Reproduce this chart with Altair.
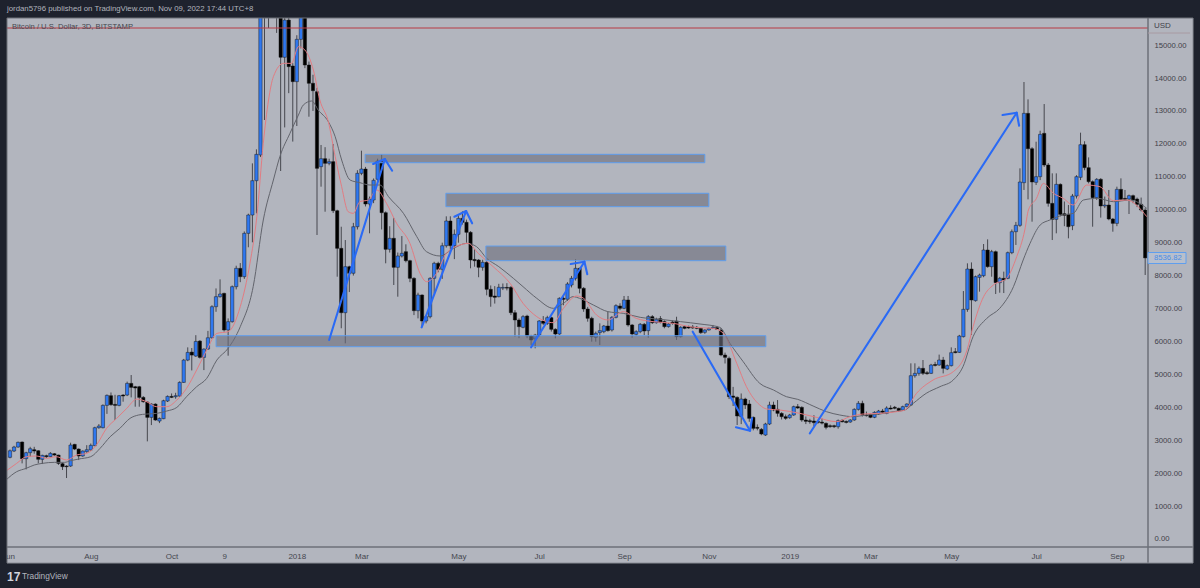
import altair as alt
import pandas as pd

# 3-day BTC/USD candles
opens = [
2480,2672,2793,2945,2439,2621,2712,2682,2419,2530,
2500,2590,2550,2287,2216,2216,2874,2732,2520,2651,
2702,2834,3380,3380,4058,4352,4088,4058,4372,4372,
4726,4625,4625,4301,4160,3694,4098,3582,3653,4190,
4331,4321,4341,4756,5434,5677,5556,6011,5515,5768,
6112,7055,7360,7460,6347,6600,7663,8220,7967,9283,
9840,10882,11662,16300,17100,18500,18000,17500,14630,15760,
14365,13890,15175,16300,14395,13840,13585,11308,11550,11410,
11460,9970,8828,6873,8270,8070,9484,11106,11237,10174,
10296,10924,11480,9910,8798,9132,8251,8595,8726,8452,
7917,6934,7410,6620,6751,7917,8373,8190,8907,9658,
8907,9253,9739,9618,9314,8490,8473,8251,8403,7583,
7380,7359,7620,7640,7644,6873,6651,6429,6773,6166,
6074,6196,6621,6550,6722,6368,6226,7309,7280,7714,
7917,8220,7613,6985,6702,6125,6267,6297,6469,6348,
6732,7077,7006,7259,6500,6216,6297,6520,6327,6753,
6570,6692,6601,6449,6591,6621,6145,6449,6449,6439,
6429,6398,6277,6348,6398,6420,6347,5588,5486,4342,
4302,3715,4251,4100,3695,3391,3330,3158,3492,4069,
3938,3816,3715,3685,3766,4019,3998,3614,3593,3583,
3570,3550,3512,3441,3441,3411,3600,3570,3553,3614,
3938,4120,3766,3786,3695,3796,3887,3816,3978,4000,
3968,3917,4019,4069,4960,5031,5183,5050,5031,5300,
5284,5436,5162,5264,5689,5669,6145,6975,8200,7238,
7946,7997,8777,8270,8726,7785,7916,7916,8696,9333,
9526,10822,12927,11854,10832,11004,12320,11358,10194,9708,
10771,9880,9860,9516,10416,10984,11975,11277,10852,10366,
10923,10113,10143,9718,9586,10619,10345,10325,10427,10325,
10163,9991]
closes = [
2680,2793,2935,2439,2621,2742,2672,2419,2540,2500,
2601,2550,2297,2196,2196,2854,2732,2520,2672,2712,
2844,3380,3430,4058,4362,4078,4058,4352,4342,4726,
4605,4585,4301,4170,3694,4098,3613,3663,4200,4331,
4301,4352,4756,5434,5667,5586,6000,5515,5768,6112,
7055,7360,7440,6347,6600,7663,8220,7967,9283,9840,
10882,11682,16300,17100,18500,18000,17500,14630,15760,14345,
13890,15175,16300,14395,13840,13615,11257,11550,11410,11460,
9970,8828,6873,8270,8070,9484,11106,11237,10174,10326,
10894,11480,9910,8798,9132,8251,8595,8676,8452,7917,
6934,7410,6620,6751,7917,8373,8190,8907,9658,8907,
9253,9739,9618,9314,8473,8452,8251,8403,7583,7359,
7340,7644,7640,7620,6873,6651,6448,6753,6166,6044,
6196,6621,6550,6722,6368,6226,7309,7280,7745,7917,
8220,7613,6985,6702,6145,6247,6328,6469,6328,6732,
7087,7006,7259,6500,6226,6297,6520,6317,6753,6570,
6672,6581,6449,6530,6550,6145,6429,6398,6408,6408,
6398,6267,6348,6398,6429,6370,5588,5517,4322,4302,
3735,4251,4069,3664,3361,3361,3189,3492,4069,3917,
3816,3715,3664,3766,4019,3978,3614,3573,3563,3533,
3540,3520,3391,3411,3411,3593,3560,3540,3614,3938,
4120,3766,3745,3695,3847,3887,3847,3978,3948,3970,
3897,4019,4100,4960,5031,5183,5031,5020,5284,5270,
5436,5183,5264,5659,5659,6165,6975,8200,7258,7967,
8017,8777,8270,8726,7785,7916,7865,8696,9333,9526,
10842,12927,11854,10842,11004,12289,11358,10194,9708,10771,
9860,9830,9485,10416,11004,11975,11277,10852,10366,10923,
10113,10143,9718,9586,10619,10315,10315,10427,10295,10163,
9991,8536.82]
highs = [
2720,2830,2960,2960,2650,2800,2800,2700,2560,2560,
2640,2610,2560,2320,2240,2925,2890,2750,2690,2850,
2900,3410,3490,4090,4390,4450,4380,4375,4400,4780,
4980,4650,4650,4340,4180,4120,4120,3690,4230,4360,
4420,4440,4790,5470,5820,5800,6190,6040,5790,6320,
7100,7610,7885,7480,6700,7700,8300,8380,9340,9880,
11408,11834,16700,17500,18500,19000,18500,18000,16000,16000,
14450,15300,17000,17000,14500,14100,13700,11966,11900,11550,
11995,10000,9484,9080,8300,9600,11200,11793,11300,10400,
10950,11550,11683,9950,9500,9750,8700,9200,8950,8480,
7950,7480,7430,6800,7950,8420,8420,9000,9800,9800,
9400,9830,9950,9700,9350,8800,8500,8480,8450,7700,
7680,7750,7760,7770,7680,6950,6700,6800,6810,6200,
6230,6650,6770,6780,6750,6400,7340,7400,7800,7990,
8494,8240,7650,7050,6750,6300,6550,6500,6904,6770,
7130,7160,7380,7380,6530,6340,6560,6560,6800,6800,
6720,6770,6640,6560,6640,6750,6460,6490,6480,6500,
6470,6420,6370,6420,6500,6470,6410,5660,5540,4620,
4330,4420,4290,4220,3720,3480,3370,3530,4170,4170,
4220,3850,3780,3800,4050,4100,4030,3720,3650,3760,
3620,3660,3540,3480,3470,3630,3640,3600,3640,3970,
4190,4200,3870,3810,3880,3920,3950,4030,4060,4040,
3990,4050,4120,5335,5335,5240,5436,5100,5320,5380,
5600,5530,5300,5820,5800,6200,7530,8372,8400,8000,
8060,8959,9100,8780,8760,7960,8120,8730,9400,9630,
11257,13879,13352,11900,12066,12400,13210,11420,11105,11105,
10800,10250,10143,10480,11050,12340,12080,11590,10890,10960,
10960,10400,10600,9750,10700,10953,10600,10460,10460,10370,
10370,10050]
lows = [
2450,2640,2770,2297,2115,2500,2590,2297,2277,2460,
2480,2530,2250,2095,1852,2190,2700,2398,2500,2620,
2680,2820,3350,3360,3800,4050,3613,4030,4170,4340,
4301,4018,4018,4140,2965,3460,3590,3520,3640,4160,
4280,4260,4320,4740,5400,5120,5530,5480,5130,5740,
6080,6900,7330,6300,5567,6570,7580,7800,7900,8860,
9010,9890,11600,12725,15520,17000,15370,11176,12500,13540,
12070,12543,14900,14300,12825,13000,9233,10700,9940,11350,
9900,7966,6400,5943,7500,8000,9400,11050,10100,9284,
10200,10850,9400,8373,8700,7714,7359,8550,8400,7800,
6800,6700,6450,6550,6700,7450,8100,7900,8850,8800,
8500,9000,9550,9000,8221,8270,7950,8150,7400,7054,
7150,7340,7560,7550,6800,6145,6100,6400,6100,5892,
5791,6150,6500,6500,6300,6095,6200,7100,7230,7640,
7850,7461,6900,6600,5993,5993,5892,6250,6300,6300,
6700,6950,6980,6450,6115,6165,6250,6195,6115,6530,
6540,6550,6400,6420,6510,6044,6120,6370,6380,6380,
6370,6230,6230,6330,6380,6350,5550,5330,4250,4039,
3462,3490,3950,3560,3300,3300,3150,3130,3460,3880,
3715,3630,3620,3650,3740,3950,3560,3490,3500,3430,
3500,3480,3330,3380,3370,3350,3540,3510,3530,3590,
3900,3720,3720,3670,3670,3770,3820,3790,3930,3940,
3870,3890,4000,4040,4900,4960,4980,4990,5010,5240,
5260,5030,5130,5240,5640,5650,6120,6900,6195,7210,
7511,7950,8240,7966,7440,7480,7470,7890,8650,8930,
9480,10600,10315,9637,10750,10900,11300,10094,9080,9283,
9800,9500,9131,9380,10340,10900,11200,10800,9485,10300,
9760,10050,9680,9333,9500,10280,10270,9870,10200,10080,
9950,8018]

gray_i = [-1,1.65,4,6,8,11,13.5,15,17,20,22.3,24.8,27.2,29.7,31.8,33.8,36.3,38.8,41.3,43.7,46.2,48.7,51.2,54,57,60.2,62.7,65.2,66.8,69.3,71.4,72.6,74.7,76.3,78.8,80.5,82.1,84.2,86.6,89.1,91.6,93.7,97.4,100.7,103.1,106.5,109.8,113,115.5,118,121,124.6,127,130.4,134.5,137,139.4,141,144.4,148,151.8,156,161,166,170.8,175.7,178.2,181.5,185.6,189,192.2,195,198.8,202.1,205.4,208.7,212,215.3,218.6,221.5,223.6,226.8,230.2,233.5,235.9,238.4,241.8,245,248.4,250.8,252.5,255,257.4,260.7,263.2,265.7,269.3,273.1,277.3,281.4]
gray_v = [1791,2044,2145,2247,2297,2328,2328,2378,2429,2500,2753,3107,3360,3663,3765,3795,3815,3886,3997,4321,4625,4878,5434,5791,6448,7663,9688,10902,11611,12320,12877,13180,13302,13028,12674,12218,11510,10902,10822,10751,10751,10396,9890,9182,8726,8595,8828,8979,8878,8524,8271,7917,7664,7309,7006,7158,7360,7309,7107,6905,6854,6732,6672,6601,6530,6429,5943,5385,4727,4525,4322,4241,4039,3867,3766,3715,3766,3796,3867,3917,4120,4424,4626,4829,5233,6145,6701,7005,7663,8473,8979,9536,9688,9840,9890,10295,10346,10244,10295,10042]
red_i = [-1,1.65,4.1,6.6,9,11.5,14,16.5,19,21.4,23.9,26.4,28.9,31.4,33.8,36.3,38.8,41.3,43.7,46.2,48.7,51.2,54,57,59.4,61.1,62.7,64,65.2,67.7,69.7,71.4,73,75.1,76.7,78.8,80.5,82.1,83.7,85,86.6,88.7,90.8,93.2,95.7,99,101.5,103.1,105.6,108,111.4,113.4,115.9,119.6,123.8,127,130.4,134.5,137,140.3,142,145.2,148,151.8,155,159.2,164.2,169.2,174,176.6,179.9,182.3,185.6,187.3,190.6,195.5,199.6,204.6,207.9,211.2,215.3,219.5,221.5,224.4,228.5,233.5,236.9,238.4,241,243.4,246.7,249.2,251.2,252.1,254.1,255.8,258.3,260.7,263.2,266.5,269.8,273.1,276.4,281.4]
red_v = [2064,2297,2500,2520,2449,2500,2398,2550,2601,2854,3360,3663,3967,4250,4170,4018,4018,4220,4574,5131,5738,6244,6297,7056,8372,9789,12016,13332,14041,14446,14446,14952,14850,14243,13332,12674,11611,10700,9941,9890,10245,10295,10599,10194,9586,8979,8068,7815,8068,8676,8928,8979,8676,8271,7765,7158,6753,6570,7006,7380,7309,6803,6651,6905,6702,6601,6550,6429,6398,6246,5335,4626,4069,3948,3917,3816,3695,3563,3715,3796,3816,3867,3917,4424,4829,5082,5740,6448,7359,7713,7916,8574,9384,9991,10346,10800,10498,10346,10143,10750,10700,10275,10295,9789]

zone_i = [51, 87.9, 107.9, 117.8]
zone_i2 = [187.1, 172, 173, 177.2]
zone_top = [6174, 11683, 10500, 8898]
zone_bottom = [5840, 11428, 10092, 8452]

arrow_id = [1,1, 2,2, 3,3, 4,4, 5,5, 6,6,6, 7,7,7, 8,8,8, 9,9,9, 10,10,10]
arrow_seq = [0,1, 0,1, 0,1, 0,1, 0,1, 0,1,2, 0,1,2, 0,1,2, 0,1,2, 0,1,2]
arrow_i = [79,92.8, 101.9,112.9, 129,142.2, 169,183.2, 198,249.2,
           89.9,92.8,94.6, 110,112.9,114.4, 138.8,142.2,142.9, 179.7,183.2,183.7, 245.7,249.2,249.8]
arrow_v = [6044,11541, 6429,9961, 5822,8422, 6296,3289, 3210,12947,
           11389,11541,11185, 9788,9961,9588, 8352,8422,8039, 3392,3289,3675, 12877,12947,12552]

price_ticks = [0,1000,2000,3000,4000,5000,6000,7000,8000,9000,10000,11000,12000,13000,14000,15000]
time_ticks = [0,20,40,53,71,87,111,131,152,173,193,213,233,254,274]
time_labels = ["un","Aug","Oct","9","2018","Mar","May","Jul","Sep","Nov","2019","Mar","May","Jul","Sep"]
last_price = 8536.82
red_level = 15519

title_text = "jordan5796 published on TradingView.com, Nov 09, 2022 17:44 UTC+8"
symbol_text = "Bitcoin / U.S. Dollar, 3D, BITSTAMP"

BG = "#1e222d"; PANEL = "#b2b5be"; FONT = "Liberation Sans"
W, H = 1141, 529

assert len(opens) == len(closes) == len(highs) == len(lows), (len(opens), len(closes), len(highs), len(lows))

df = pd.DataFrame({"i": range(len(opens)), "o": opens, "c": closes, "h": highs, "l": lows})
df["dir"] = ["up" if c >= o else "down" for o, c in zip(opens, closes)]

label_expr = "{" + ",".join(f"'{t}':'{l}'" for t, l in zip(time_ticks, time_labels)) + "}[datum.value]"
x_scale = alt.Scale(domain=[-0.74, 281.7], nice=False, zero=False, padding=0)
y_scale = alt.Scale(domain=[-243, 15823], nice=False, zero=False)
x_axis = alt.Axis(values=time_ticks, labelExpr=label_expr, title=None, grid=False, ticks=False, domain=False,
                  labelFont=FONT, labelFontSize=8, labelColor="#45474f", labelPadding=5, zindex=1)
y_axis = alt.Axis(values=price_ticks, format=".2f", orient="right", title=None, grid=False, ticks=False, domain=False,
                  labelFont=FONT, labelFontSize=7.7, labelColor="#3f4149", labelPadding=6, zindex=1,
                  labelOverlap=False, labelBound=False)
X = alt.X("i:Q", scale=x_scale, axis=x_axis)
def Yf(field):
    return alt.Y(field, scale=y_scale, axis=y_axis)

one = pd.DataFrame({"a": [0]})
def chrome_rect(x, x2, y, y2, color):
    return alt.Chart(one).mark_rect(color=color).encode(x=alt.value(x), x2=alt.value(x2), y=alt.value(y), y2=alt.value(y2))
def chrome_rule(x, x2, y, y2, color, width):
    return alt.Chart(one).mark_rule(color=color, strokeWidth=width).encode(
        x=alt.value(x), x2=alt.value(x2), y=alt.value(y), y2=alt.value(y2))
def label(x, y, text, color, size=8, weight="normal", font=FONT):
    return alt.Chart(one).mark_text(align="left", baseline="middle", color=color, fontSize=size, font=font, fontWeight=weight).encode(
        x=alt.value(x), y=alt.value(y), text=alt.value(text))

wicks = alt.Chart(df).mark_rule(clip=True, color="#46474e", strokeWidth=1).encode(X, Yf("l:Q"), y2="h:Q")
bodies = alt.Chart(df).mark_bar(clip=True, size=3.3, stroke="#111111", strokeWidth=0.45).encode(
    x=X, y=Yf("o:Q"), y2="c:Q",
    color=alt.Color("dir:N", scale=alt.Scale(domain=["up", "down"], range=["#2f78f0", "#000000"]), legend=None))

gray_df = pd.DataFrame({"i": gray_i, "v": gray_v})
red_df = pd.DataFrame({"i": red_i, "v": red_v})
gray_line = alt.Chart(gray_df).mark_line(clip=True, color="#62646c", strokeWidth=1, interpolate="monotone").encode(x=X, y=Yf("v:Q"))
red_line = alt.Chart(red_df).mark_line(clip=True, color="#e27c82", strokeWidth=1, interpolate="monotone").encode(x=X, y=Yf("v:Q"))

zones = alt.Chart(pd.DataFrame({"i": zone_i, "i2": zone_i2, "t": zone_top, "b": zone_bottom})).mark_rect(
    fill="#6c6e7c", fillOpacity=0.62, stroke="#5f9eee", strokeWidth=1).encode(x=X, x2="i2:Q", y=Yf("t:Q"), y2="b:Q")

arrows = alt.Chart(pd.DataFrame({"id": arrow_id, "seq": arrow_seq, "i": arrow_i, "v": arrow_v})).mark_line(
    color="#2a6af5", strokeWidth=2.1, strokeCap="round", strokeJoin="round").encode(
    x=X, y=Yf("v:Q"), detail="id:N", order="seq:Q")

level = alt.Chart(pd.DataFrame({"v": [red_level]})).mark_rule(color="#b83a45", strokeWidth=1).encode(y=Yf("v:Q"))

chart = alt.layer(
    chrome_rect(W, W + 45, 0, H, PANEL),
    chrome_rect(0, W + 45, H, H + 16, PANEL),
    wicks, bodies, gray_line, red_line, zones, arrows, level,
    chrome_rule(W, W, 0, H + 16, "#6d7079", 1.5),
    chrome_rule(0, W + 45, H, H, "#6d7079", 1.5),
    chrome_rule(W + 45, W + 45, 0, H + 16, "#8a8d96", 1),
    chrome_rule(0, W + 45, H + 16, H + 16, "#8a8d96", 1),
    chrome_rule(0, W + 45, 0, 0, "#6d7079", 1),
    chrome_rule(0, 0, 0, H + 16, "#6d7079", 1),
    chrome_rule(W, W + 42, 15, 15, "#a89aa2", 1),
    alt.Chart(one).mark_rect(fill="#b8bfcc", stroke="#5f9eee", strokeWidth=1).encode(
        x=alt.value(W), x2=alt.value(W + 38), y=alt.value(234.5), y2=alt.value(245.5)),
    label(W + 6, 240, "8536.82", "#4a8de6", 7.7),
    label(W + 6, 8, "USD", "#3f4149"),
    label(5, 9, symbol_text, "#45474f", 7.6),
    label(0, -9, title_text, "#b2b5be", 7.8),
    label(0, 558.5, "17", "#d1d4dc", 12, "bold"),
    label(15, 558.5, "TradingView", "#b2b5be", 8.3),
).properties(
    width=W, height=H,
    background=BG,
    padding={"left": 7, "top": 18, "right": 52, "bottom": 41},
    autosize=alt.AutoSizeParams(type="none"),
).configure_view(fill=PANEL, stroke=None)

chart.save("out.html", embed_options={"renderer": "svg", "actions": False,
                                      "defaultStyle": "body{margin:0;background:#1e222d;overflow:hidden}"})
